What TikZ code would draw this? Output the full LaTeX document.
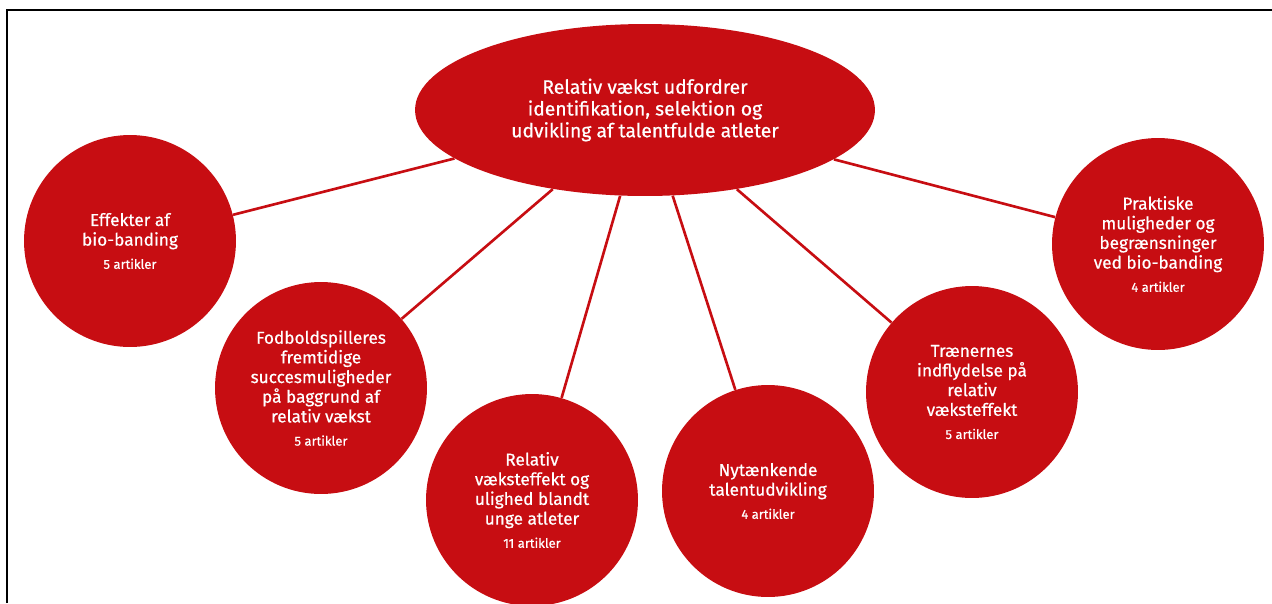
\documentclass[tikz,border=0pt]{standalone}
\usepackage{fontspec}
\setmainfont{Fira Sans}[RawFeature={embolden=0.6}]
\usetikzlibrary{shapes.geometric}
\definecolor{vkred}{HTML}{C70D12}
\tikzset{
  hub/.style={ellipse,fill=vkred,text=white,inner sep=0pt,minimum width=9.2cm,minimum height=3.44cm,align=center,font=\fontsize{11}{12.4}\selectfont},
  topic/.style={circle,fill=vkred,text=white,inner sep=0pt,minimum size=4.24cm,align=center,font=\fontsize{9.8}{11.2}\selectfont},
  spoke/.style={draw=vkred,line width=1.5pt},
  frame/.style={draw=black,line width=1.1pt},
}
\newcommand{\antal}[1]{\\[2pt]{\fontsize{7.4}{9}\selectfont #1 artikler}}

\begin{document}
\begin{tikzpicture}[x=0.02cm,y=-0.02cm]
  \useasboundingbox (0,0) rectangle (1272,603);
  \draw[frame] (7,603) -- (7,10) -- (1272,10);

  % ---- centre ----
  \node[hub] (hub) at (645,110) {Relativ vækst udfordrer\\identifikation, selektion og\\udvikling af talentfulde atleter};

  % ---- topics ----
  \node[topic] (t1) at (130,241) {Effekter af\\bio-banding\antal{5}};
  \node[topic] (t2) at (321,388) {Fodboldspilleres\\fremtidige\\succesmuligheder\\på baggrund af\\relativ vækst\antal{5}};
  \node[topic] (t3) at (532,500) {Relativ\\væksteffekt og\\ulighed blandt\\unge atleter\antal{11}};
  \node[topic] (t4) at (768,491) {Nytænkende\\talentudvikling\antal{4}};
  \node[topic] (t5) at (972,392) {Trænernes\\indflydelse på\\relativ\\væksteffekt\antal{5}};
  \node[topic] (t6) at (1158,244) {Praktiske\\muligheder og\\begrænsninger\\ved bio-banding\antal{4}};

  \foreach \t in {t1,t2,t3,t4,t5,t6}{ \draw[spoke] (hub) -- (\t); }
\end{tikzpicture}
\end{document}
